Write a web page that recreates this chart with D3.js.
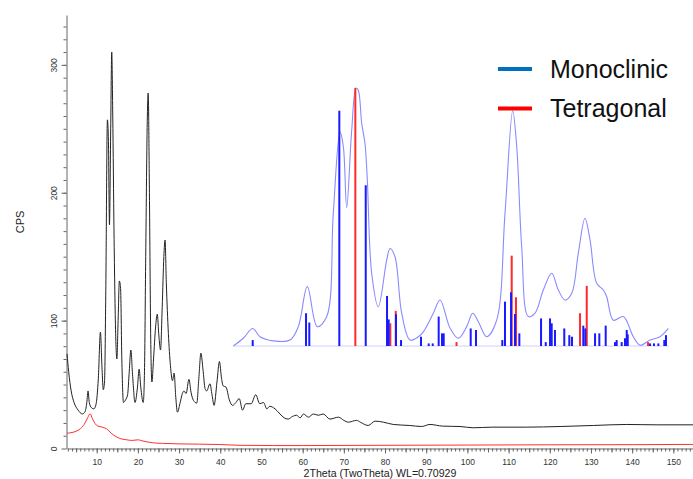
<!DOCTYPE html>
<html><head><meta charset="utf-8">
<script src="https://cdn.jsdelivr.net/npm/d3@7"></script>
<style>body{margin:0;background:#fff}svg{display:block;font-family:Arial,"Liberation Sans",sans-serif}</style>
</head><body>
<svg id="c" width="693" height="479"></svg>
<script>
// ---- main pattern (2Theta, CPS) ----
const sampleTheta = [2.8,3.2,3.8,4.5,5.5,6.5,7.2,7.6,7.9,8.2,8.7,9.3,9.8,10.4,10.9,11.3,11.6,11.9,12.2,12.6,12.85,13.1,13.4,13.65,13.9,14.2,14.6,14.9,15.2,15.5,15.8,16.1,16.5,17.0,17.5,17.9,18.3,18.7,19.3,19.9,20.3,20.7,21.3,21.6,21.9,22.3,22.5,22.8,23.1,23.4,23.8,24.3,24.7,25.1,25.5,25.9,26.3,26.6,26.9,27.4,27.9,28.4,28.8,29.2,29.6,30.2,30.8,31.2,31.7,32.4,32.9,33.5,34.3,34.8,35.3,35.8,36.3,36.7,37.5,38.0,38.5,39.2,39.8,40.3,40.7,41.4,42.2,43.0,43.8,44.6,45.4,46.2,47.5,48.6,49.6,50.5,51.3,52.0,53.3,54.5,55.5,56.5,57.5,58.5,59.4,60.2,61.4,62.6,63.8,65.0,66.6,68.7,70.0,71.1,73.1,74.0,75.9,77.6,79.6,82.0,86.0,88.9,90.9,94.0,98.2,101.4,106.0,114.4,122.5,130.6,138.7,146.0,154.8];
const sampleCPS   = [74,60,45,36,30,27,29,36,45,36,32,31,34,55,91,62,46,52,120,257,240,175,250,310,260,170,90,70,100,131,125,70,36,38,42,60,77,58,36,48,62,48,36,60,150,260,278,200,90,52,70,95,105,88,77,110,150,163,130,90,65,53,59,40,28.4,35,43,45,43,54,44,37.6,35.5,55,74.6,62,47,45,50.6,42,33.7,52,68,55,49,48,38,33.7,36,39,30,35,35,42,35,36,31,33,31,27,24,23,25,26,24,27,24.5,27,26,27,23,24.5,22,20.6,22,20.6,18,21.4,20.6,18.8,18,17.2,18.8,17.5,17.2,16.2,16.7,16.7,17.2,18,18.8,18.5,18.5];
const blankTheta  = [2.8,4,5,6,7,7.8,8.4,9,9.6,10.3,10.8,11.5,12.4,13.5,14.9,16,17.3,18.5,20.1,21,22.5,23.8,26,30.2,35,40,44.8,52.9,60,80,100,120,140,154.8];
const blankCPS    = [12,12.5,13.5,15.4,19,24,27.2,23,19.5,17.5,17.2,16.5,15.4,12,8.9,7.5,6.8,6.3,6.8,6,5,4.4,4,3.6,3.4,3.1,2.5,2.3,2.3,2.5,2.7,2.9,3.0,3.2];
const xTicks = [10,20,30,40,50,60,70,80,90,100,110,120,130,140,150];
const yTicks = [0,100,200,300];

// ---- inset: reference pattern with phase markers (2Theta Cu, relative intensity) ----
const insetTheta = [15.04,16.23,17.35,18.22,19.81,21.80,22.79,23.86,25.05,26.18,26.96,27.76,28.16,28.56,29.16,29.67,29.95,30.35,30.74,31.02,31.54,32.33,33.33,33.73,34.32,35.12,36.11,37.10,37.70,38.89,39.69,40.88,41.87,42.87,43.59,44.26,45.26,46.45,47.44,48.36,48.84,49.43,50.22,51.02,52.01,53.01,53.80,54.60,55.40,56.18,56.98,57.58,58.38,59.17,59.57,60.36,61.55,62.74,63.54,64.74,65.93,66.92];
const insetInt   = [0,3,6.8,3.6,2,2.3,7.5,23,7.5,11.4,51.4,83,77.3,53.6,83.7,100,99,86.3,78.5,64.3,28.2,15.2,33.3,37.8,34.6,12.7,2.3,3.6,5.5,12.7,17.8,7,3,7.5,12.7,9.4,3.6,10,51.4,91.2,77.2,38.5,11.4,12.7,21.7,28.2,21.7,17.8,20.4,35.9,49.5,41.1,24.3,21.7,19.1,10,11.4,3.6,0.3,2.3,3.6,6.8];
const monoTheta  = [17.35,23.71,24.10,27.68,30.83,33.37,33.57,34.44,35.04,37.42,38.34,38.82,39.53,39.93,40.13,43.35,43.98,47.12,47.44,48.16,48.63,49.15,51.74,52.30,52.81,53.01,53.40,54.51,55.11,55.43,56.78,57.02,58.18,58.69,59.45,60.56,60.76,61.36,61.75,61.96,62.08,64.74,65.21,65.73,66.44,66.64];
const monoInt    = [2.3,12.7,9.1,91.2,62.3,19.4,10.3,12.3,2.3,3.6,1,1,11.4,4.9,4.9,6.8,6.2,2.3,17.2,20.8,12.4,4.9,10.7,1.5,10.7,8.8,6.2,6.8,4.2,3.6,7.9,6.8,4.9,4.9,7.9,1.5,2.3,1.5,3,6.2,4.5,1,1,1,2.3,4.2];
const tetraTheta = [29.59,33.76,34.41,41.66,48.24,48.75,56.39,57.19,64.50];
const tetraInt   = [100,8.8,13.6,1.5,35,18.9,12.7,23.3,1.5];
const legendLabels = ["Monoclinic","Tetragonal"];
const legendColors = ["#0070c0","#ff0000"];

const svg = d3.select("#c");
const x = d3.scaleLinear().domain([2.79,154.77]).range([67,693]);
const y = d3.scaleLinear().domain([0,339]).range([448.5,15]);
const axisCol = "#666";

// minor ticks x
const gxm = svg.append("g").attr("transform","translate(0,448.5)")
  .call(d3.axisBottom(x).tickValues(d3.range(3,155,1)).tickSize(3).tickFormat(""));
gxm.select(".domain").remove();
gxm.selectAll("line").attr("stroke",axisCol);
const gxm5 = svg.append("g").attr("transform","translate(0,448.5)")
  .call(d3.axisBottom(x).tickValues(d3.range(5,155,10)).tickSize(4).tickFormat(""));
gxm5.select(".domain").remove();
gxm5.selectAll("line").attr("stroke",axisCol);
const gx = svg.append("g").attr("transform","translate(0,448.5)")
  .call(d3.axisBottom(x).tickValues(xTicks).tickSize(5).tickSizeOuter(0));
gx.select(".domain").attr("stroke",axisCol);
gx.selectAll("line").attr("stroke",axisCol);
gx.selectAll("text").attr("y",10).attr("dy","0.71em").attr("font-size","8.5px").attr("fill","#333").attr("font-family","Arial, Liberation Sans, sans-serif");

// y axis
const gym = svg.append("g").attr("transform","translate(66.5,0)")
  .call(d3.axisLeft(y).tickValues(d3.range(10,340,10)).tickSize(3).tickFormat(""));
gym.select(".domain").remove();
gym.selectAll("line").attr("stroke",axisCol);
const gy = svg.append("g").attr("transform","translate(66.5,0)")
  .call(d3.axisLeft(y).tickValues(yTicks).tickSize(5).tickSizeOuter(0));
gy.select(".domain").attr("stroke",axisCol);
gy.selectAll("line").attr("stroke",axisCol);
gy.selectAll("text").attr("transform","rotate(-90)").attr("x",0).attr("y",-9.5).attr("dy","0")
  .attr("text-anchor","middle").attr("font-size","8.5px").attr("fill","#333").attr("font-family","Arial, Liberation Sans, sans-serif");

svg.append("text").attr("transform","translate(24,222) rotate(-90)").attr("text-anchor","middle")
  .attr("font-size","11px").attr("fill","#222").text("CPS");
svg.append("text").attr("x",380).attr("y",476.5).attr("text-anchor","middle")
  .attr("font-size","10.6px").attr("fill","#222").text("2Theta (TwoTheta) WL=0.70929");

const line = d3.line().x(d=>x(d[0])).y(d=>y(d[1])).curve(d3.curveMonotoneX);
svg.append("path").datum(blankTheta.map((t,i)=>[t,blankCPS[i]]))
  .attr("d",line).attr("fill","none").attr("stroke","#ff3030").attr("stroke-width",1);
svg.append("path").datum(sampleTheta.map((t,i)=>[t,sampleCPS[i]]))
  .attr("d",line).attr("fill","none").attr("stroke","#222").attr("stroke-width",1);

// inset
const xi = d3.scaleLinear().domain([15,67]).range([233,669]);
const yi = d3.scaleLinear().domain([0,100]).range([346,88]);
const gi = svg.append("g");
gi.append("line").attr("x1",xi(15)).attr("x2",xi(67)).attr("y1",yi(0)).attr("y2",yi(0))
  .attr("stroke","#d0d0ff").attr("stroke-width",1);
const iline = d3.line().x(d=>xi(d[0])).y(d=>yi(d[1])).curve(d3.curveCatmullRom.alpha(0.5));
gi.append("path").datum(insetTheta.map((t,i)=>[t,insetInt[i]]))
  .attr("d",iline).attr("fill","none").attr("stroke","#8a8aff").attr("stroke-width",1.1);
gi.selectAll(".t").data(tetraTheta.map((t,i)=>[t,tetraInt[i]])).join("rect")
  .attr("x",d=>xi(d[0])-1).attr("width",2).attr("y",d=>yi(d[1])).attr("height",d=>yi(0)-yi(d[1]))
  .attr("fill","#ff2a2a");
gi.selectAll(".m").data(monoTheta.map((t,i)=>[t,monoInt[i]])).join("rect")
  .attr("x",d=>xi(d[0])-1).attr("width",2).attr("y",d=>yi(d[1])).attr("height",d=>yi(0)-yi(d[1]))
  .attr("fill","#1a1aff");

// legend
const lg = svg.append("g");
legendLabels.forEach((lab,i)=>{
  const yy = 69 + i*39.5;
  lg.append("line").attr("x1",498).attr("x2",532).attr("y1",yy).attr("y2",yy)
    .attr("stroke",legendColors[i]).attr("stroke-width",4);
  lg.append("text").attr("x",550).attr("y",yy+8.5).attr("font-size","25px").attr("fill","#111").text(lab);
});
</script>
</body></html>
